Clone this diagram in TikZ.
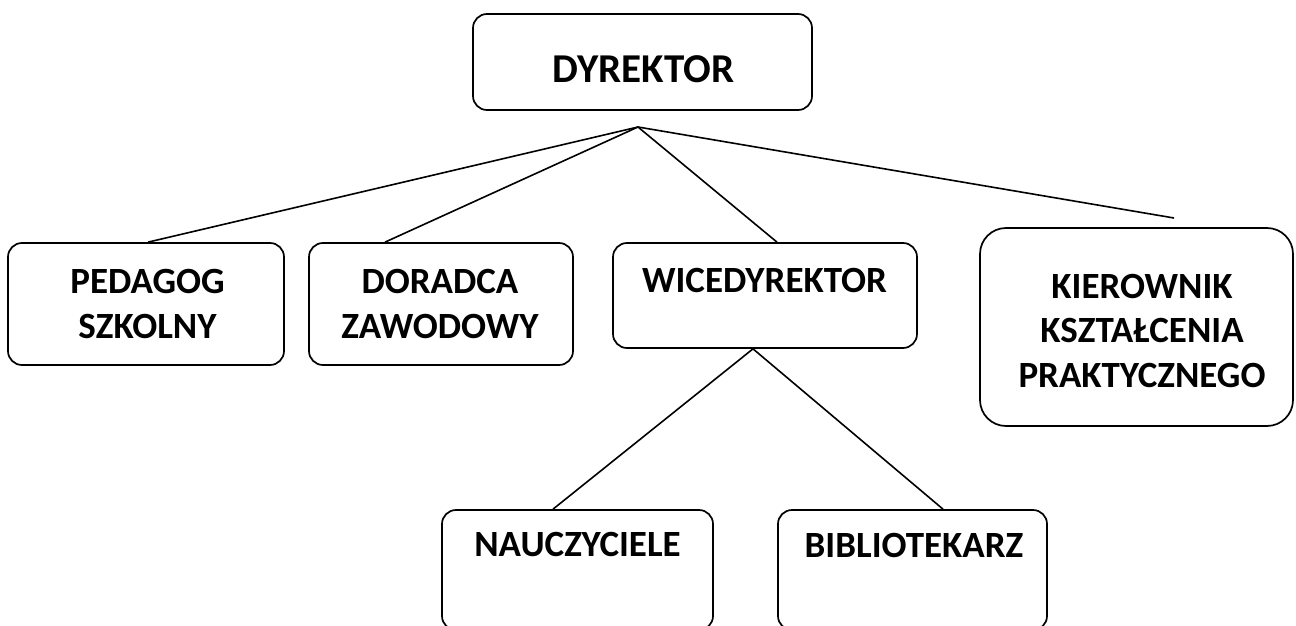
\documentclass[tikz,border=0pt]{standalone}
\usepackage{fontspec}
\setmainfont{Carlito}
\begin{document}
\begin{tikzpicture}[x=1pt,y=-1pt,
  box/.style={draw=black, line width=1.7pt, rounded corners=14pt, inner sep=0pt},
  lbl/.style={font=\bfseries\fontsize{37}{44.5}\selectfont, inner sep=0pt, anchor=base, align=center},
  conn/.style={draw=black, line width=1.6pt}]
\clip (0,0) rectangle (1296,626);
\fill[white] (0,0) rectangle (1296,626);
% boxes
\node[box, minimum width=339pt, minimum height=96pt] (dyr) at (642.5,62) {};
\node[box, minimum width=276pt, minimum height=122pt] (ped) at (146,304) {};
\node[box, minimum width=264pt, minimum height=122pt] (dor) at (441,304) {};
\node[box, minimum width=304pt, minimum height=105pt] (wice) at (765,295.5) {};
\node[box, rounded corners=26pt, minimum width=313pt, minimum height=198pt] (kier) at (1136.5,327) {};
\node[box, minimum width=271pt, minimum height=120pt] (nau) at (577.5,570) {};
\node[box, minimum width=269pt, minimum height=120pt] (bib) at (912.5,570) {};
% labels (anchor=base of a multi-line node is the last line's baseline)
\node[lbl, font=\bfseries\fontsize{41}{48}\selectfont] (tdyr) at (643.5,83) {DYREKTOR};
\node[lbl] (tped) at (147.5,338) {PEDAGOG\\SZKOLNY};
\node[lbl] (tdor) at (440,338) {DORADCA\\ZAWODOWY};
\node[lbl] (twice) at (764.5,292) {WICEDYREKTOR};
\node[lbl] (tkier) at (1142,387) {KIEROWNIK\\KSZTAŁCENIA\\PRAKTYCZNEGO};
\node[lbl] (tnau) at (577.5,556) {NAUCZYCIELE};
\node[lbl] (tbib) at (914,557) {BIBLIOTEKARZ};
% connectors
\coordinate (apex) at (638,127);
\coordinate (kend) at (1174,218);
\draw[conn] (apex) -- ([xshift=2pt]ped.north);
\draw[conn] (apex) -- ([xshift=-56pt]dor.north);
\draw[conn] (apex) -- ([xshift=12pt]wice.north);
\draw[conn] (apex) -- (kend);
\draw[conn] ([xshift=-12pt]wice.south) -- ([xshift=-24.5pt]nau.north);
\draw[conn] ([xshift=-12pt]wice.south) -- ([xshift=30.5pt]bib.north);
\end{tikzpicture}
\end{document}
